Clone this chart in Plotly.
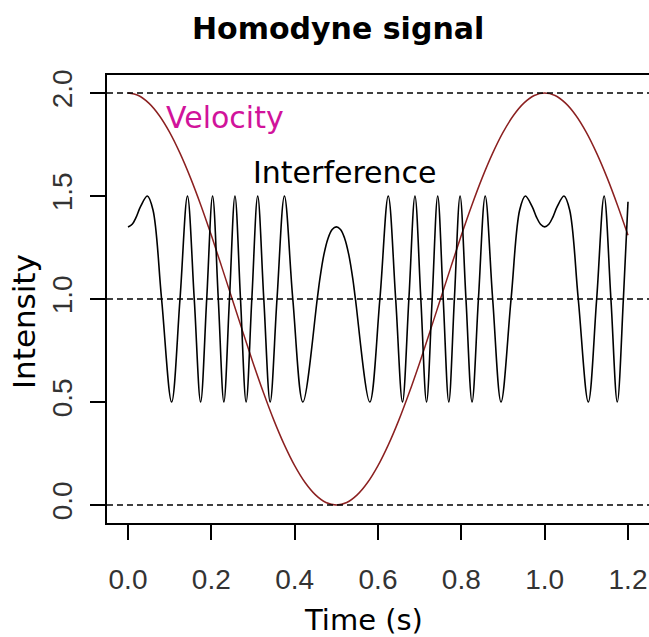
import plotly.graph_objects as go

# ---- data ----
t_velocity = [0.000, 0.025, 0.050, 0.075, 0.100, 0.125, 0.150, 0.175, 0.200, 0.225,
              0.250, 0.275, 0.300, 0.325, 0.350, 0.375, 0.400, 0.425, 0.450, 0.475,
              0.500, 0.525, 0.550, 0.575, 0.600, 0.625, 0.650, 0.675, 0.700, 0.725,
              0.750, 0.775, 0.800, 0.825, 0.850, 0.875, 0.900, 0.925, 0.950, 0.975,
              1.000, 1.025, 1.050, 1.075, 1.100, 1.125, 1.150, 1.175, 1.200]
velocity = [2.000, 1.988, 1.951, 1.891, 1.809, 1.707, 1.588, 1.454, 1.309, 1.156,
            1.000, 0.844, 0.691, 0.546, 0.412, 0.293, 0.191, 0.109, 0.049, 0.012,
            0.000, 0.012, 0.049, 0.109, 0.191, 0.293, 0.412, 0.546, 0.691, 0.844,
            1.000, 1.156, 1.309, 1.454, 1.588, 1.707, 1.809, 1.891, 1.951, 1.988,
            2.000, 1.988, 1.951, 1.891, 1.809, 1.707, 1.588, 1.454, 1.309]

t_interference = [
    0.000, 0.010, 0.020, 0.030, 0.0464, 0.060, 0.0806, 0.1047, 0.1248, 0.1427,
    0.1590, 0.1743, 0.1889, 0.2030, 0.2167, 0.2301, 0.2435, 0.2567, 0.2700, 0.2835,
    0.2972, 0.3113, 0.3259, 0.3412, 0.3576, 0.3754, 0.3955, 0.4197, 0.4542, 0.460,
    0.470, 0.480, 0.490, 0.500, 0.510, 0.520, 0.530, 0.540, 0.5458, 0.5803,
    0.6045, 0.6246, 0.6424, 0.6588, 0.6741, 0.6887, 0.7028, 0.7165, 0.7300, 0.7433,
    0.7565, 0.7699, 0.7833, 0.7970, 0.8111, 0.8257, 0.8410, 0.8573, 0.8752, 0.8953,
    0.9194, 0.940, 0.9536, 0.970, 0.980, 0.990, 1.000, 1.010, 1.020, 1.030,
    1.0464, 1.060, 1.0806, 1.1047, 1.1248, 1.1427, 1.1590, 1.1743, 1.1889, 1.200]
interference = [
    1.350, 1.363, 1.399, 1.448, 1.500, 1.432, 1.000, 0.500, 1.000, 1.500,
    1.000, 0.500, 1.000, 1.500, 1.000, 0.500, 1.000, 1.500, 1.000, 0.500,
    1.000, 1.500, 1.000, 0.500, 1.000, 1.500, 1.000, 0.500, 1.000, 1.091,
    1.214, 1.294, 1.337, 1.350, 1.337, 1.294, 1.214, 1.091, 1.000, 0.500,
    1.000, 1.500, 1.000, 0.500, 1.000, 1.500, 1.000, 0.500, 1.000, 1.500,
    1.000, 0.500, 1.000, 1.500, 1.000, 0.500, 1.000, 1.500, 1.000, 0.500,
    1.000, 1.432, 1.500, 1.448, 1.399, 1.363, 1.350, 1.363, 1.399, 1.448,
    1.500, 1.432, 1.000, 0.500, 1.000, 1.500, 1.000, 0.500, 1.000, 1.472]

x_ticks = [0.0, 0.2, 0.4, 0.6, 0.8, 1.0, 1.2]
x_tick_labels = ["0.0", "0.2", "0.4", "0.6", "0.8", "1.0", "1.2"]
y_ticks = [0.0, 0.5, 1.0, 1.5, 2.0]
y_tick_labels = ["0.0", "0.5", "1.0", "1.5", "2.0"]
reference_levels = [0.0, 1.0, 2.0]

title_text = "Homodyne signal"
x_title = "Time (s)"
y_title = "Intensity"
velocity_label = "Velocity"
interference_label = "Interference"

# ---- figure ----
fig = go.Figure()

fig.add_trace(go.Scatter(
    x=t_velocity, y=velocity, mode="lines",
    line=dict(color="#8b2020", width=1.5, shape="spline", smoothing=1.0),
    showlegend=False, hoverinfo="skip"))

fig.add_trace(go.Scatter(
    x=t_interference, y=interference, mode="lines",
    line=dict(color="#000000", width=1.6, shape="spline", smoothing=1.0),
    showlegend=False, hoverinfo="skip"))

for lvl in reference_levels:
    fig.add_shape(type="line", xref="x domain", yref="y",
                  x0=0, x1=1, y0=lvl, y1=lvl,
                  line=dict(color="#000000", width=1.5, dash="6px,4px"),
                  layer="above")

tick_font = dict(family="Liberation Sans Narrow, Liberation Sans, Arial", size=28, color="#333333")
label_font = dict(family="DejaVu Sans", size=30, color="#000000")

fig.update_layout(
    width=649, height=637,
    margin=dict(l=107, r=0, t=75, b=114, pad=0),
    plot_bgcolor="#ffffff", paper_bgcolor="#ffffff",
    showlegend=False,
    xaxis=dict(
        range=[-0.0504, 1.2504], tickvals=x_ticks, ticktext=x_tick_labels,
        showgrid=False, zeroline=False,
        showline=True, mirror=True, linecolor="#000000", linewidth=1.5,
        ticks="outside", ticklen=15, tickwidth=1.5, tickcolor="#000000",
        tickfont=tick_font, ticklabelstandoff=16),
    yaxis=dict(
        range=[-0.0874, 2.0874], tickvals=y_ticks, ticktext=y_tick_labels,
        showgrid=False, zeroline=False,
        showline=True, mirror=False, linecolor="#000000", linewidth=1.5,
        ticks="outside", ticklen=15, tickwidth=1.5, tickcolor="#000000",
        tickangle=-90, tickfont=tick_font, ticklabelstandoff=7),
    annotations=[
        dict(text="<b>" + title_text + "</b>", xref="paper", yref="paper",
             x=0.4262, y=1.1027, xanchor="center", yanchor="middle",
             showarrow=False, font=dict(family="DejaVu Sans", size=30, color="#000000")),
        dict(text=x_title, xref="paper", yref="paper",
             x=0.4733, y=-0.2175, xanchor="center", yanchor="middle",
             showarrow=False, font=dict(family="DejaVu Sans", size=29, color="#000000")),
        dict(text=y_title, xref="paper", yref="paper", textangle=-90,
             x=-0.153, y=0.4487, xanchor="center", yanchor="middle",
             showarrow=False, font=dict(family="DejaVu Sans", size=31, color="#000000")),
        dict(text=velocity_label, xref="x", yref="y",
             x=0.233, y=1.879, xanchor="center", yanchor="middle",
             showarrow=False, font=dict(family="DejaVu Sans", size=30, color="#d1139b")),
        dict(text=interference_label, xref="x", yref="y",
             x=0.52, y=1.614, xanchor="center", yanchor="middle",
             showarrow=False, font=dict(family="DejaVu Sans", size=30, color="#000000")),
    ],
)

fig.write_html("out.html")
